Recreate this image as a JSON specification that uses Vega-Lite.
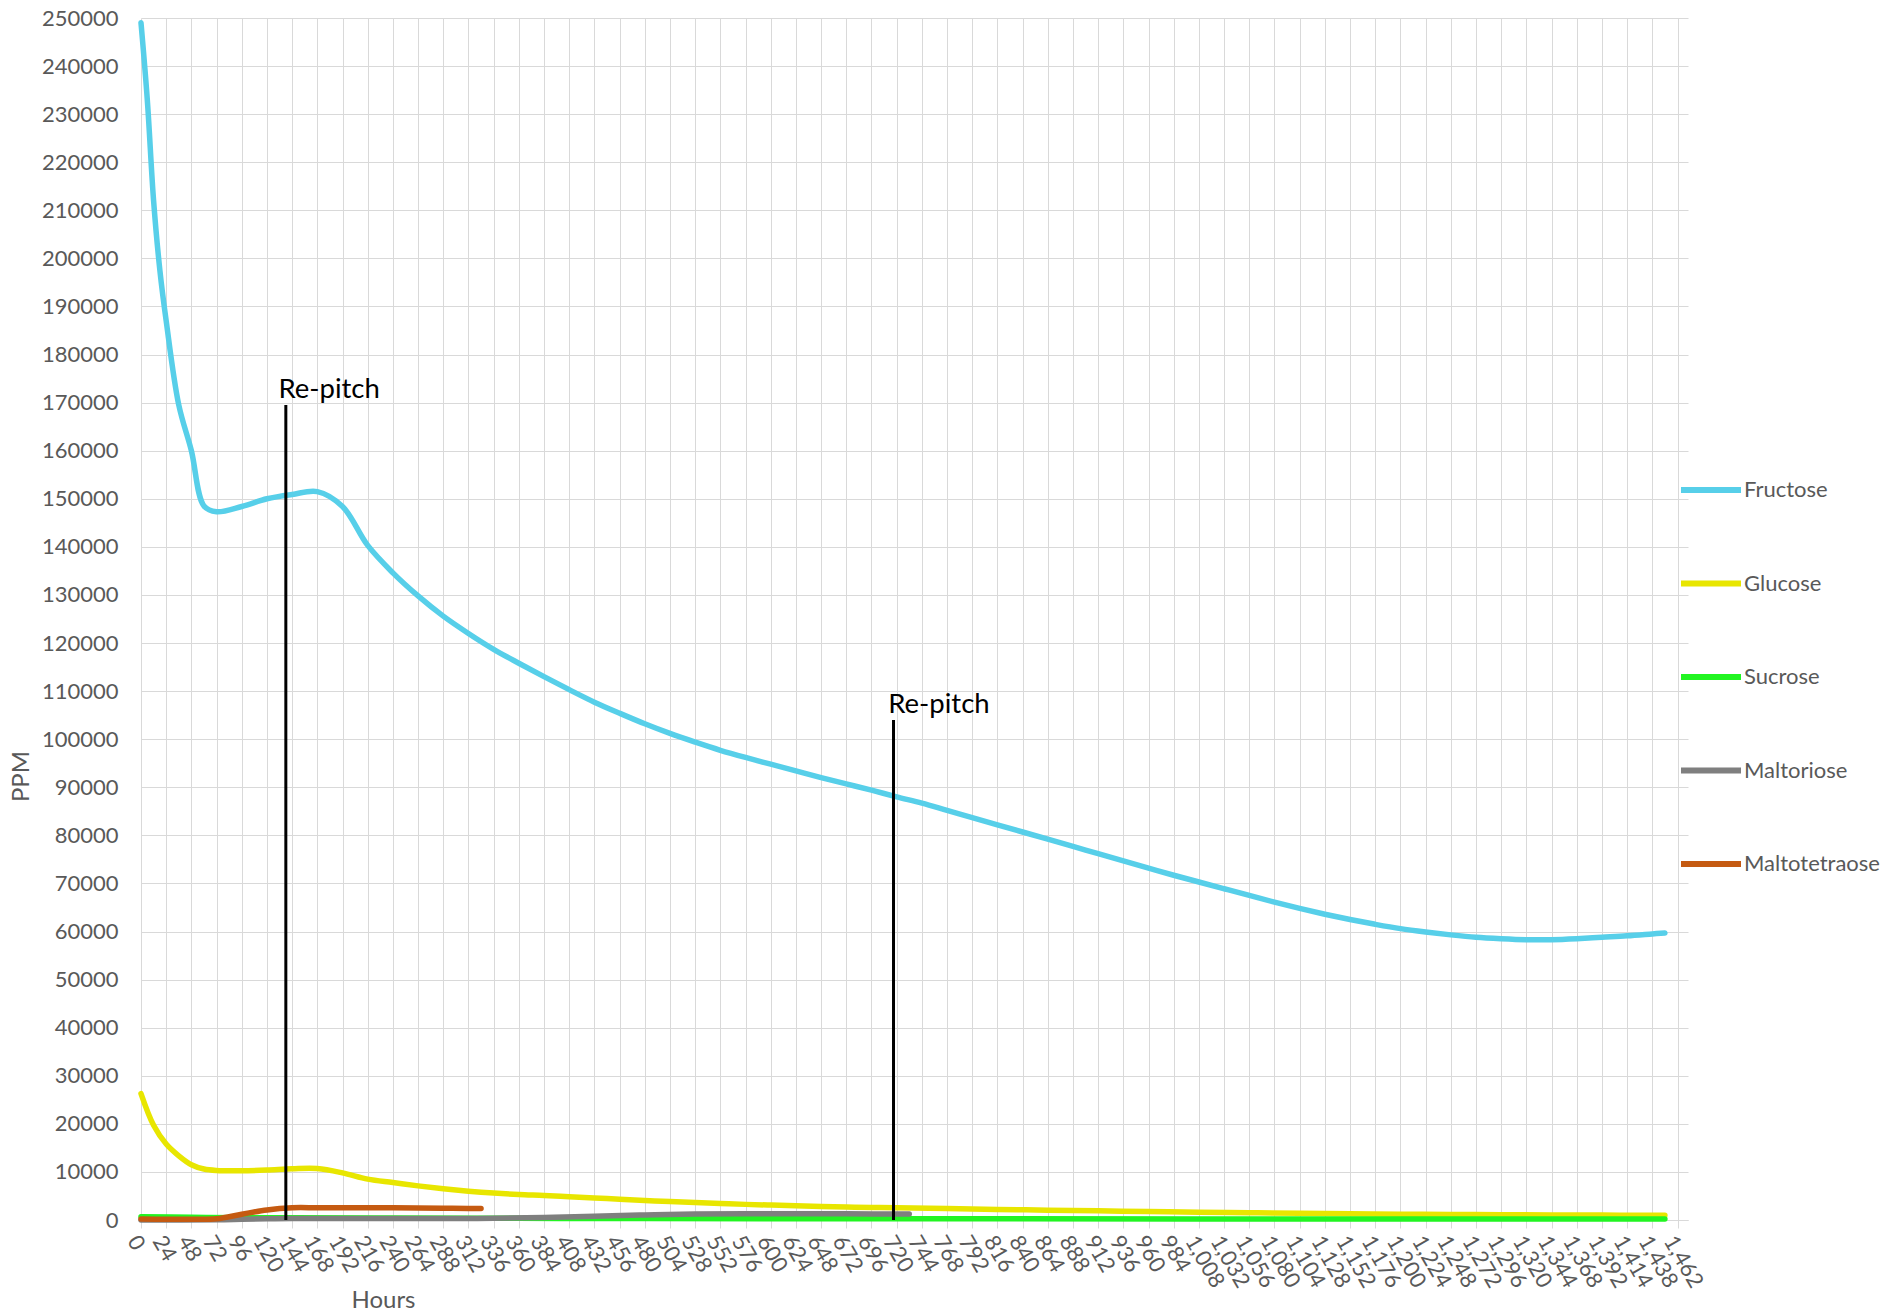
{
  "$schema": "https://vega.github.io/schema/vega-lite/v6.json",
  "width": 1547,
  "height": 1202,
  "autosize": {"type": "none"},
  "padding": {"left": 141, "top": 18, "right": 205, "bottom": 92},
  "background": "white",
  "config": {"font": "Lato", "view": {"stroke": null}, "axis": {"labelOverlap": false, "labelSeparation": 0}, "axisX": {"labelOverlap": false}},
  "datasets": {
    "series": [
      {"Sugar":"Fructose","Hours":0,"PPM":249000},{"Sugar":"Fructose","Hours":6,"PPM":233000},{"Sugar":"Fructose","Hours":12,"PPM":212000},{"Sugar":"Fructose","Hours":18,"PPM":197500},{"Sugar":"Fructose","Hours":24,"PPM":187000},{"Sugar":"Fructose","Hours":36,"PPM":169500},{"Sugar":"Fructose","Hours":48,"PPM":160000},{"Sugar":"Fructose","Hours":60,"PPM":148500},{"Sugar":"Fructose","Hours":72,"PPM":147300},{"Sugar":"Fructose","Hours":96,"PPM":148400},{"Sugar":"Fructose","Hours":120,"PPM":150000},{"Sugar":"Fructose","Hours":144,"PPM":150900},{"Sugar":"Fructose","Hours":168,"PPM":151500},{"Sugar":"Fructose","Hours":192,"PPM":148400},{"Sugar":"Fructose","Hours":216,"PPM":140300},{"Sugar":"Fructose","Hours":240,"PPM":134600},{"Sugar":"Fructose","Hours":264,"PPM":129800},{"Sugar":"Fructose","Hours":288,"PPM":125600},{"Sugar":"Fructose","Hours":312,"PPM":122000},{"Sugar":"Fructose","Hours":336,"PPM":118700},{"Sugar":"Fructose","Hours":360,"PPM":115800},{"Sugar":"Fructose","Hours":384,"PPM":113000},{"Sugar":"Fructose","Hours":408,"PPM":110300},{"Sugar":"Fructose","Hours":432,"PPM":107700},{"Sugar":"Fructose","Hours":456,"PPM":105400},{"Sugar":"Fructose","Hours":480,"PPM":103200},{"Sugar":"Fructose","Hours":504,"PPM":101200},{"Sugar":"Fructose","Hours":528,"PPM":99400},{"Sugar":"Fructose","Hours":552,"PPM":97700},{"Sugar":"Fructose","Hours":576,"PPM":96200},{"Sugar":"Fructose","Hours":600,"PPM":94800},{"Sugar":"Fructose","Hours":624,"PPM":93400},{"Sugar":"Fructose","Hours":648,"PPM":92000},{"Sugar":"Fructose","Hours":672,"PPM":90700},{"Sugar":"Fructose","Hours":696,"PPM":89400},{"Sugar":"Fructose","Hours":720,"PPM":88000},{"Sugar":"Fructose","Hours":744,"PPM":86700},{"Sugar":"Fructose","Hours":768,"PPM":85200},{"Sugar":"Fructose","Hours":792,"PPM":83700},{"Sugar":"Fructose","Hours":816,"PPM":82200},{"Sugar":"Fructose","Hours":840,"PPM":80700},{"Sugar":"Fructose","Hours":864,"PPM":79200},{"Sugar":"Fructose","Hours":888,"PPM":77700},{"Sugar":"Fructose","Hours":912,"PPM":76200},{"Sugar":"Fructose","Hours":936,"PPM":74700},{"Sugar":"Fructose","Hours":960,"PPM":73200},{"Sugar":"Fructose","Hours":984,"PPM":71700},{"Sugar":"Fructose","Hours":1008,"PPM":70300},{"Sugar":"Fructose","Hours":1032,"PPM":68900},{"Sugar":"Fructose","Hours":1056,"PPM":67500},{"Sugar":"Fructose","Hours":1080,"PPM":66100},{"Sugar":"Fructose","Hours":1104,"PPM":64800},{"Sugar":"Fructose","Hours":1128,"PPM":63600},{"Sugar":"Fructose","Hours":1152,"PPM":62500},{"Sugar":"Fructose","Hours":1176,"PPM":61500},{"Sugar":"Fructose","Hours":1200,"PPM":60600},{"Sugar":"Fructose","Hours":1224,"PPM":59900},{"Sugar":"Fructose","Hours":1248,"PPM":59300},{"Sugar":"Fructose","Hours":1272,"PPM":58800},{"Sugar":"Fructose","Hours":1296,"PPM":58500},{"Sugar":"Fructose","Hours":1320,"PPM":58300},{"Sugar":"Fructose","Hours":1344,"PPM":58300},{"Sugar":"Fructose","Hours":1368,"PPM":58500},{"Sugar":"Fructose","Hours":1392,"PPM":58800},{"Sugar":"Fructose","Hours":1416,"PPM":59100},{"Sugar":"Fructose","Hours":1440,"PPM":59500},{"Sugar":"Fructose","Hours":1452,"PPM":59700},

      {"Sugar":"Glucose","Hours":0,"PPM":26300},{"Sugar":"Glucose","Hours":12,"PPM":19700},{"Sugar":"Glucose","Hours":24,"PPM":15800},{"Sugar":"Glucose","Hours":36,"PPM":13350},{"Sugar":"Glucose","Hours":48,"PPM":11500},{"Sugar":"Glucose","Hours":60,"PPM":10600},{"Sugar":"Glucose","Hours":72,"PPM":10300},{"Sugar":"Glucose","Hours":96,"PPM":10250},{"Sugar":"Glucose","Hours":120,"PPM":10400},{"Sugar":"Glucose","Hours":144,"PPM":10650},{"Sugar":"Glucose","Hours":168,"PPM":10700},{"Sugar":"Glucose","Hours":192,"PPM":9800},{"Sugar":"Glucose","Hours":216,"PPM":8500},{"Sugar":"Glucose","Hours":240,"PPM":7800},{"Sugar":"Glucose","Hours":264,"PPM":7100},{"Sugar":"Glucose","Hours":288,"PPM":6500},{"Sugar":"Glucose","Hours":312,"PPM":6000},{"Sugar":"Glucose","Hours":336,"PPM":5600},{"Sugar":"Glucose","Hours":360,"PPM":5300},{"Sugar":"Glucose","Hours":384,"PPM":5100},{"Sugar":"Glucose","Hours":408,"PPM":4850},{"Sugar":"Glucose","Hours":432,"PPM":4600},{"Sugar":"Glucose","Hours":456,"PPM":4300},{"Sugar":"Glucose","Hours":480,"PPM":4050},{"Sugar":"Glucose","Hours":504,"PPM":3850},{"Sugar":"Glucose","Hours":528,"PPM":3650},{"Sugar":"Glucose","Hours":552,"PPM":3450},{"Sugar":"Glucose","Hours":576,"PPM":3250},{"Sugar":"Glucose","Hours":600,"PPM":3100},{"Sugar":"Glucose","Hours":624,"PPM":2950},{"Sugar":"Glucose","Hours":648,"PPM":2800},{"Sugar":"Glucose","Hours":672,"PPM":2700},{"Sugar":"Glucose","Hours":696,"PPM":2600},{"Sugar":"Glucose","Hours":720,"PPM":2550},{"Sugar":"Glucose","Hours":768,"PPM":2380},{"Sugar":"Glucose","Hours":816,"PPM":2200},{"Sugar":"Glucose","Hours":864,"PPM":2050},{"Sugar":"Glucose","Hours":912,"PPM":1900},{"Sugar":"Glucose","Hours":960,"PPM":1750},{"Sugar":"Glucose","Hours":1008,"PPM":1620},{"Sugar":"Glucose","Hours":1056,"PPM":1500},{"Sugar":"Glucose","Hours":1104,"PPM":1400},{"Sugar":"Glucose","Hours":1152,"PPM":1300},{"Sugar":"Glucose","Hours":1200,"PPM":1200},{"Sugar":"Glucose","Hours":1248,"PPM":1150},{"Sugar":"Glucose","Hours":1296,"PPM":1100},{"Sugar":"Glucose","Hours":1344,"PPM":1050},{"Sugar":"Glucose","Hours":1392,"PPM":1020},{"Sugar":"Glucose","Hours":1440,"PPM":1000},{"Sugar":"Glucose","Hours":1452,"PPM":1000},

      {"Sugar":"Sucrose","Hours":0,"PPM":700},{"Sugar":"Sucrose","Hours":48,"PPM":550},{"Sugar":"Sucrose","Hours":96,"PPM":450},{"Sugar":"Sucrose","Hours":144,"PPM":450},{"Sugar":"Sucrose","Hours":240,"PPM":400},{"Sugar":"Sucrose","Hours":360,"PPM":350},{"Sugar":"Sucrose","Hours":480,"PPM":300},{"Sugar":"Sucrose","Hours":720,"PPM":250},{"Sugar":"Sucrose","Hours":1000,"PPM":220},{"Sugar":"Sucrose","Hours":1452,"PPM":200},

      {"Sugar":"Maltoriose","Hours":0,"PPM":0},{"Sugar":"Maltoriose","Hours":72,"PPM":50},{"Sugar":"Maltoriose","Hours":96,"PPM":150},{"Sugar":"Maltoriose","Hours":120,"PPM":250},{"Sugar":"Maltoriose","Hours":144,"PPM":300},{"Sugar":"Maltoriose","Hours":192,"PPM":300},{"Sugar":"Maltoriose","Hours":240,"PPM":300},{"Sugar":"Maltoriose","Hours":288,"PPM":320},{"Sugar":"Maltoriose","Hours":336,"PPM":350},{"Sugar":"Maltoriose","Hours":384,"PPM":500},{"Sugar":"Maltoriose","Hours":432,"PPM":800},{"Sugar":"Maltoriose","Hours":480,"PPM":1050},{"Sugar":"Maltoriose","Hours":528,"PPM":1250},{"Sugar":"Maltoriose","Hours":576,"PPM":1300},{"Sugar":"Maltoriose","Hours":624,"PPM":1300},{"Sugar":"Maltoriose","Hours":672,"PPM":1280},{"Sugar":"Maltoriose","Hours":732,"PPM":1250},

      {"Sugar":"Maltotetraose","Hours":0,"PPM":200},{"Sugar":"Maltotetraose","Hours":24,"PPM":150},{"Sugar":"Maltotetraose","Hours":48,"PPM":150},{"Sugar":"Maltotetraose","Hours":72,"PPM":250},{"Sugar":"Maltotetraose","Hours":96,"PPM":1200},{"Sugar":"Maltotetraose","Hours":120,"PPM":2100},{"Sugar":"Maltotetraose","Hours":144,"PPM":2550},{"Sugar":"Maltotetraose","Hours":168,"PPM":2550},{"Sugar":"Maltotetraose","Hours":192,"PPM":2550},{"Sugar":"Maltotetraose","Hours":216,"PPM":2550},{"Sugar":"Maltotetraose","Hours":240,"PPM":2550},{"Sugar":"Maltotetraose","Hours":264,"PPM":2500},{"Sugar":"Maltotetraose","Hours":288,"PPM":2450},{"Sugar":"Maltotetraose","Hours":312,"PPM":2400},{"Sugar":"Maltotetraose","Hours":324,"PPM":2400}
    ],
    "repitch": [
      {"Hours": 138, "top": 169500, "bottom": 0},
      {"Hours": 717, "top": 104000, "bottom": 0}
    ],
    "notes": [
      {"Hours": 131, "PPM": 170900, "label": "Re-pitch"},
      {"Hours": 712, "PPM": 105350, "label": "Re-pitch"}
    ]
  },
  "encoding": {
    "x": {
      "field": "Hours", "type": "quantitative",
      "scale": {"domain": [0, 1474], "nice": false, "zero": false},
      "axis": {
        "title": "Hours",
        "values": [0,24,48,72,96,120,144,168,192,216,240,264,288,312,336,360,384,408,432,456,480,504,528,552,576,600,624,648,672,696,720,744,768,792,816,840,864,888,912,936,960,984,1008,1032,1056,1080,1104,1128,1152,1176,1200,1224,1248,1272,1296,1320,1344,1368,1392,1416,1440,1464],
        "labelExpr": "datum.value == 1416 ? '1,414' : datum.value == 1440 ? '1,438' : datum.value == 1464 ? '1,462' : format(datum.value, ',')",
        "labelAngle": 60, "labelAlign": "left", "labelBaseline": "top",
        "labelFont": "Lato", "labelFontSize": 22, "labelColor": "#595959",
        "labelPadding": 4, "labelOverlap": false, "labelSeparation": 0, "labelBound": false, "labelFlush": false,
        "tickSize": 8, "tickColor": "#d9d9d9", "tickWidth": 1,
        "domainColor": "#d9d9d9", "domainWidth": 1,
        "grid": true, "gridColor": "#d9d9d9", "gridWidth": 1,
        "titleFont": "Lato", "titleFontSize": 24, "titleFontWeight": "normal", "titleColor": "#595959",
        "titleX": 242, "titleY": 87, "titleAlign": "center", "titleBaseline": "alphabetic"
      }
    }
  },
  "layer": [
    {
      "data": {"name": "series"},
      "mark": {"type": "line", "strokeWidth": 5.5, "interpolate": "catmull-rom", "strokeCap": "round", "strokeJoin": "round"},
      "encoding": {
        "y": {
          "field": "PPM", "type": "quantitative",
          "scale": {"domain": [0, 250000], "nice": false},
          "axis": {
            "title": "PPM",
            "values": [0,10000,20000,30000,40000,50000,60000,70000,80000,90000,100000,110000,120000,130000,140000,150000,160000,170000,180000,190000,200000,210000,220000,230000,240000,250000],
            "format": "d",
            "domain": false, "ticks": false, "tickSize": 0,
            "labelPadding": 23, "labelFont": "Lato", "labelFontSize": 22, "labelColor": "#595959",
            "grid": true, "gridColor": "#d9d9d9", "gridWidth": 1,
            "titleFont": "Lato", "titleFontSize": 24, "titleFontWeight": "normal", "titleColor": "#595959",
            "titleAngle": -90, "titleX": -120, "titleY": 758, "titleAlign": "center", "titleBaseline": "middle"
          }
        },
        "color": {
          "field": "Sugar", "type": "nominal",
          "scale": {
            "domain": ["Fructose", "Glucose", "Sucrose", "Maltoriose", "Maltotetraose"],
            "range": ["#57CFE9", "#E8E600", "#22F522", "#7F7F7F", "#C55A11"]
          },
          "legend": {
            "title": null, "orient": "none", "legendX": 1537, "legendY": 439, "padding": 0,
            "direction": "vertical",
            "symbolType": "stroke", "symbolSize": 3600, "symbolStrokeWidth": 6,
            "labelFont": "Lato", "labelFontSize": 22, "labelColor": "#595959",
            "labelOffset": 0, "rowPadding": 48.5
          }
        }
      }
    },
    {
      "data": {"name": "repitch"},
      "mark": {"type": "rule", "color": "black", "strokeWidth": 3},
      "encoding": {
        "y": {"field": "top", "type": "quantitative"},
        "y2": {"field": "bottom"}
      }
    },
    {
      "data": {"name": "notes"},
      "mark": {"type": "text", "align": "left", "baseline": "alphabetic", "font": "Lato", "fontSize": 27.5, "color": "black"},
      "encoding": {
        "y": {"field": "PPM", "type": "quantitative"},
        "text": {"field": "label", "type": "nominal"}
      }
    }
  ]
}
